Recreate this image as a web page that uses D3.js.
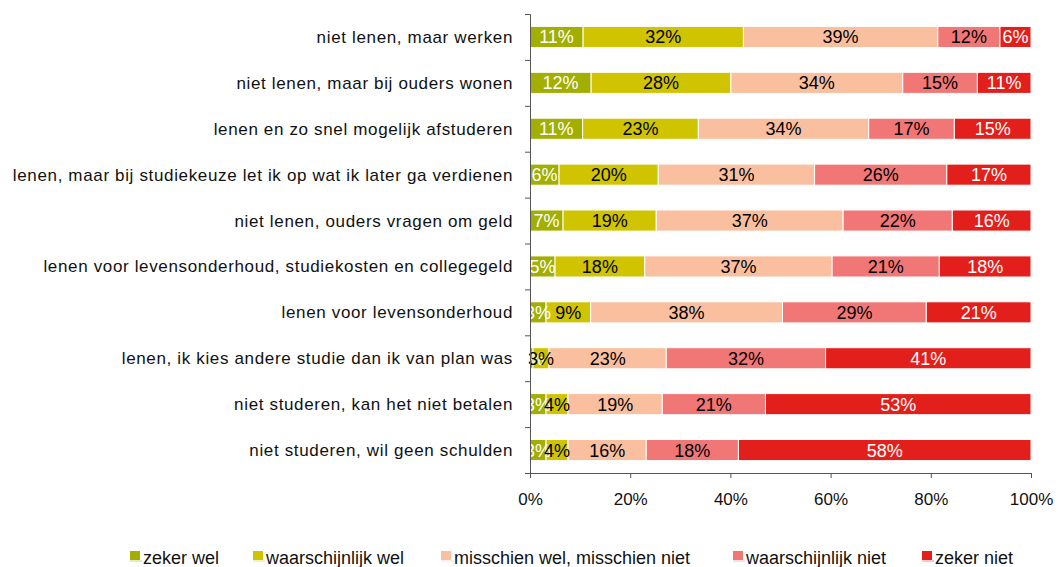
<!DOCTYPE html>
<html>
<head>
<meta charset="utf-8">
<script src="https://cdn.jsdelivr.net/npm/d3@7"></script>
<style>
  html, body { margin: 0; padding: 0; background: #fff; }
  svg { display: block; font-family: "Liberation Sans", Arial, sans-serif; }
</style>
</head>
<body>
<svg id="chart" width="1058" height="567"></svg>
<script>
const categories = [
  "niet lenen,  maar werken",
  "niet lenen,  maar bij ouders wonen",
  "lenen en zo snel mogelijk afstuderen",
  "lenen,  maar bij studiekeuze let ik op wat ik later ga verdienen",
  "niet lenen,  ouders vragen om geld",
  "lenen voor levensonderhoud, studiekosten en collegegeld",
  "lenen voor levensonderhoud",
  "lenen,  ik kies andere studie dan ik van plan was",
  "niet studeren, kan het niet betalen",
  "niet studeren, wil geen schulden"
];
const seriesNames = ["zeker wel", "waarschijnlijk wel", "misschien wel, misschien niet", "waarschijnlijk niet", "zeker niet"];
const zekerWel          = [10.6, 12.2, 10.5,  5.8,  6.6,  5.0,  3.2,  0.6,  3.2,  3.2];
const waarschijnlijkWel = [32.0, 27.9, 23.1, 19.8, 18.6, 17.9,  8.9,  3.2,  4.4,  4.4];
const misschien         = [38.8, 34.3, 34.0, 31.2, 37.3, 37.4, 38.3, 23.4, 18.8, 15.6];
const waarschijnlijkNiet= [12.4, 14.9, 17.1, 26.4, 21.8, 21.4, 28.7, 31.8, 20.6, 18.4];
const zekerNiet         = [ 6.2, 10.7, 15.3, 16.8, 15.7, 18.3, 20.9, 41.0, 53.0, 58.4];
const xTicks = [0, 20, 40, 60, 80, 100];

const colors = ["#a2ae00", "#d0c400", "#f9bf9f", "#f17777", "#e31f1c"];
const textColors = ["#ffffff", "#000000", "#000000", "#000000", "#ffffff"];

const seriesValues = [zekerWel, waarschijnlijkWel, misschien, waarschijnlijkNiet, zekerNiet];
const rows = categories.map((c, i) => {
  const o = { cat: c };
  seriesNames.forEach((s, j) => o[s] = seriesValues[j][i]);
  return o;
});
const stacked = d3.stack().keys(seriesNames)(rows);

const svg = d3.select("#chart");
const x = d3.scaleLinear().domain([0, 100]).range([530, 1031]);
const y = d3.scaleBand().domain(categories).range([14, 473]).paddingInner(0.54).paddingOuter(0.27);
const yb = d3.scaleLinear().domain([0, categories.length]).range([14, 473]);

// bars
const g = svg.append("g");
stacked.forEach((layer, j) => {
  const lg = g.append("g");
  lg.selectAll("rect").data(layer).enter().append("rect")
    .attr("x", d => x(d[0]))
    .attr("y", d => y(d.data.cat))
    .attr("width", d => x(d[1]) - x(d[0]))
    .attr("height", y.bandwidth())
    .attr("fill", colors[j])
    .attr("stroke", "#ffffff")
    .attr("stroke-width", 1);
});
// labels
stacked.forEach((layer, j) => {
  g.append("g").selectAll("text").data(layer).enter().append("text")
    .attr("x", d => (x(d[0]) + x(d[1])) / 2)
    .attr("y", d => y(d.data.cat) + y.bandwidth() / 2 + 6.5)
    .attr("text-anchor", "middle")
    .attr("font-size", 18)
    .attr("fill", textColors[j])
    .text(d => Math.round(d[1] - d[0]) + "%");
});

// y axis (ticks at category boundaries)
const yAxis = svg.append("g").attr("transform", "translate(530,0)")
  .call(d3.axisLeft(yb).ticks(10).tickFormat("").tickSize(5).tickSizeOuter(5));
yAxis.selectAll("path, line").attr("stroke", "#555");

// category labels
svg.append("g").selectAll("text").data(categories).enter().append("text")
  .attr("x", 513)
  .attr("y", d => y(d) + y.bandwidth() / 2 + 6)
  .attr("text-anchor", "end")
  .attr("font-size", 17)
  .attr("letter-spacing", 0.65)
  .attr("fill", "#111")
  .text(d => d);

// x axis
const xAxis = svg.append("g").attr("transform", "translate(0,473)")
  .call(d3.axisBottom(x).tickValues(xTicks).tickFormat(d => d + "%").tickSize(5).tickSizeOuter(0).tickPadding(15));
xAxis.selectAll("path, line").attr("stroke", "#555");
xAxis.selectAll("text").attr("font-size", 17).attr("fill", "#111")
  .attr("font-family", "'Liberation Sans', Arial, sans-serif");

// legend
const legendX = [130, 253, 441, 733, 922];
const lg = svg.append("g");
seriesNames.forEach((s, j) => {
  const it = lg.append("g").attr("transform", `translate(${legendX[j]},551)`);
  it.append("rect").attr("x", 0).attr("y", 0).attr("width", 10).attr("height", 9).attr("fill", colors[j]);
  it.append("line").attr("x1", 0).attr("x2", 12).attr("y1", 10).attr("y2", 10)
    .attr("stroke", colors[j]).attr("stroke-opacity", 0.5);
  it.append("text").attr("x", 13).attr("y", 13).attr("font-size", 18).attr("fill", "#111").text(s);
});
</script>
</body>
</html>
